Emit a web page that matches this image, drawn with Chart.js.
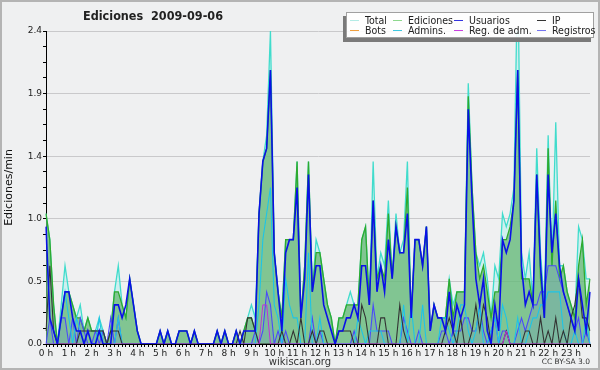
<!DOCTYPE html>
<html lang="es">
<head>
<meta charset="UTF-8">
<title>Ediciones 2009-09-06</title>
<script src="https://cdn.jsdelivr.net/npm/chart.js@4.4.0/dist/chart.umd.min.js"></script>
<style>
  html, body { margin: 0; padding: 0; background: #eff0f1; }
  #wrap { position: relative; width: 600px; height: 370px; overflow: hidden; font-family: "DejaVu Sans", sans-serif; color: #222; }
  #frame { position: absolute; left: 0; top: 0; width: 600px; height: 370px; box-sizing: border-box; border: 2px solid #b4b4b4; pointer-events: none; }
  #title { position: absolute; left: 0; width: 306px; top: 8px; text-align: center; font-family: "DejaVu Sans Condensed", "DejaVu Sans", sans-serif; font-weight: bold; font-size: 12.5px; white-space: pre; }
  #legend { position: absolute; left: 346px; top: 12px; width: 246px; height: 24px; background: rgba(255,255,255,0.9); border: 1px solid #a0a0a0; box-shadow: -3px 4px 0 #7a7a7a; }
  .li { position: absolute; font-family: "DejaVu Sans Condensed", "DejaVu Sans", sans-serif; font-size: 10.5px; line-height: 11px; white-space: nowrap; }
  .li i { display: inline-block; width: 9px; height: 0; border-top: 1.5px solid; vertical-align: middle; margin-right: 6px; position: relative; top: -1px; }
  #site { position: absolute; left: 0; width: 600px; top: 356px; text-align: center; font-size: 10px; color: #333; }
  #lic { position: absolute; right: 10px; top: 357px; font-size: 7.5px; color: #333; }
</style>
</head>
<body>
<div id="wrap">
  <canvas id="c" width="600" height="370"></canvas>
  <div id="title">Ediciones  2009-09-06</div>
  <div id="legend"></div>
  <div id="site">wikiscan.org</div>
  <div id="lic">CC BY-SA 3.0</div>
  <div id="frame"></div>
</div>
<script>
// 10-minute slots over the day, edits per minute
const HOUR_LABELS = ["0 h","1 h","2 h","3 h","4 h","5 h","6 h","7 h","8 h","9 h","10 h","11 h",
  "12 h","13 h","14 h","15 h","16 h","17 h","18 h","19 h","20 h","21 h","22 h","23 h"];
const SLOTS = Array.from({ length: 144 }, (_, i) => i);

const TOTAL = [
  1.0,0.8,0.3,0.0,0.3,0.6, 0.4,0.3,0.2,0.3,0.1,0.2, 0.1,0.1,0.2,0.1,0.0,0.1, 0.4,0.6,0.3,0.2,0.5,0.3,
  0.1,0.0,0.0,0.0,0.0,0.0, 0.1,0.0,0.1,0.0,0.0,0.1, 0.1,0.1,0.0,0.1,0.0,0.0, 0.0,0.0,0.0,0.1,0.0,0.1,
  0.0,0.0,0.1,0.0,0.1,0.2, 0.3,0.2,1.0,1.4,1.6,2.4, 0.7,0.4,0.2,0.8,0.8,0.8, 1.4,0.2,0.6,1.4,0.4,0.8,
  0.7,0.5,0.3,0.2,0.0,0.2, 0.2,0.3,0.4,0.3,0.3,0.8, 0.9,0.3,1.4,0.5,0.7,0.6, 1.1,0.5,1.0,0.7,0.8,1.4,
  0.2,0.8,0.8,0.6,0.9,0.1, 0.3,0.2,0.2,0.2,0.5,0.3, 0.4,0.4,0.4,2.0,1.2,0.7, 0.6,0.7,0.5,0.2,0.6,0.5,
  1.0,0.9,1.0,1.2,2.9,0.7, 0.5,0.7,0.3,1.5,0.7,0.3, 1.6,0.6,1.7,0.6,0.6,0.4, 0.3,0.2,0.9,0.8,0.5,0.5
];
const EDICIONES = [
  1.0,0.8,0.3,0.0,0.2,0.4, 0.4,0.3,0.2,0.2,0.1,0.2, 0.1,0.1,0.1,0.1,0.0,0.1, 0.4,0.4,0.3,0.2,0.5,0.3,
  0.1,0.0,0.0,0.0,0.0,0.0, 0.1,0.0,0.1,0.0,0.0,0.1, 0.1,0.1,0.0,0.1,0.0,0.0, 0.0,0.0,0.0,0.1,0.0,0.1,
  0.0,0.0,0.1,0.0,0.1,0.2, 0.2,0.1,1.0,1.4,1.5,2.1, 0.7,0.4,0.2,0.8,0.8,0.8, 1.4,0.2,0.6,1.4,0.4,0.7,
  0.7,0.5,0.3,0.2,0.0,0.2, 0.2,0.3,0.3,0.3,0.3,0.8, 0.9,0.3,1.1,0.5,0.6,0.5, 1.0,0.5,0.9,0.7,0.7,1.2,
  0.2,0.8,0.8,0.6,0.9,0.1, 0.3,0.2,0.2,0.2,0.5,0.2, 0.4,0.4,0.4,1.9,1.2,0.7, 0.5,0.6,0.4,0.2,0.4,0.4,
  0.8,0.8,0.9,1.1,2.1,0.5, 0.5,0.5,0.3,1.3,0.5,0.2, 1.5,0.6,1.1,0.5,0.6,0.4, 0.3,0.2,0.6,0.8,0.3,0.5
];
const USUARIOS = [
  0.9,0.2,0.1,0.0,0.2,0.4, 0.4,0.2,0.1,0.1,0.0,0.1, 0.0,0.0,0.1,0.0,0.0,0.0, 0.3,0.3,0.2,0.3,0.5,0.3,
  0.1,0.0,0.0,0.0,0.0,0.0, 0.1,0.0,0.1,0.0,0.0,0.1, 0.1,0.1,0.0,0.1,0.0,0.0, 0.0,0.0,0.0,0.1,0.0,0.1,
  0.0,0.0,0.1,0.0,0.1,0.1, 0.1,0.1,1.0,1.4,1.5,2.1, 0.7,0.4,0.1,0.7,0.8,0.8, 1.2,0.2,0.5,1.3,0.4,0.6,
  0.6,0.3,0.2,0.1,0.0,0.1, 0.1,0.2,0.2,0.3,0.2,0.6, 0.6,0.3,1.1,0.4,0.6,0.4, 0.8,0.5,0.9,0.7,0.7,1.0,
  0.2,0.8,0.8,0.6,0.9,0.1, 0.3,0.2,0.2,0.1,0.4,0.1, 0.3,0.2,0.3,1.8,1.1,0.5, 0.3,0.5,0.1,0.0,0.3,0.1,
  0.8,0.7,0.8,1.1,2.1,0.6, 0.3,0.4,0.3,1.3,0.6,0.2, 1.3,0.7,1.0,0.6,0.4,0.3, 0.2,0.1,0.5,0.3,0.1,0.4
];
const IP = [
  0.1,0.6,0.1,0.0,0.0,0.0, 0.0,0.0,0.0,0.1,0.1,0.1, 0.1,0.1,0.1,0.1,0.0,0.1, 0.1,0.1,0.0,0.0,0.0,0.0,
  0.0,0.0,0.0,0.0,0.0,0.0, 0.0,0.0,0.0,0.0,0.0,0.0, 0.0,0.0,0.0,0.0,0.0,0.0, 0.0,0.0,0.0,0.0,0.0,0.0,
  0.0,0.0,0.0,0.1,0.0,0.2, 0.2,0.1,0.0,0.0,0.0,0.0, 0.0,0.0,0.1,0.0,0.0,0.1, 0.0,0.2,0.0,0.0,0.1,0.0,
  0.1,0.1,0.0,0.0,0.0,0.1, 0.1,0.1,0.1,0.0,0.0,0.3, 0.2,0.0,0.0,0.0,0.2,0.2, 0.0,0.0,0.0,0.3,0.1,0.0,
  0.0,0.0,0.0,0.0,0.0,0.0, 0.0,0.0,0.0,0.1,0.2,0.1, 0.0,0.2,0.0,0.0,0.1,0.3, 0.1,0.3,0.2,0.0,0.0,0.0,
  0.0,0.1,0.0,0.0,0.0,0.0, 0.1,0.1,0.0,0.0,0.2,0.0, 0.1,0.0,0.2,0.0,0.1,0.0, 0.2,0.3,0.5,0.2,0.2,0.1
];
const BOTS = new Array(144).fill(0);
const ADMINS = [
  0.0,0.0,0.0,0.0,0.2,0.4, 0.2,0.0,0.2,0.1,0.0,0.0, 0.0,0.0,0.2,0.0,0.0,0.0, 0.0,0.2,0.0,0.0,0.0,0.0,
  0.0,0.0,0.0,0.0,0.0,0.0, 0.0,0.0,0.0,0.0,0.0,0.0, 0.0,0.0,0.0,0.0,0.0,0.0, 0.0,0.0,0.0,0.0,0.0,0.0,
  0.0,0.0,0.0,0.0,0.0,0.0, 0.0,0.0,0.3,0.8,1.0,1.2, 0.3,0.2,0.0,0.5,0.3,0.2, 0.2,0.0,0.0,0.7,0.0,0.0,
  0.2,0.0,0.0,0.0,0.0,0.0, 0.0,0.0,0.0,0.0,0.2,0.1, 0.0,0.1,0.1,0.1,0.1,0.0, 0.0,0.0,0.0,0.0,0.3,0.0,
  0.3,0.0,0.0,0.3,0.0,0.0, 0.0,0.0,0.2,0.2,0.1,0.0, 0.1,0.3,0.3,0.1,0.0,0.1, 0.3,0.0,0.0,0.1,0.2,0.0,
  0.3,0.2,0.0,0.0,0.2,0.0, 0.0,0.1,0.2,0.2,0.3,0.3, 0.4,0.4,0.4,0.4,0.1,0.0, 0.0,0.1,0.0,0.0,0.2,0.0
];
const REG_ADM = [
  0,0,0,0,0,0, 0,0,0,0,0,0, 0,0,0,0,0,0, 0,0,0,0,0,0,
  0,0,0,0,0,0, 0,0,0,0,0,0, 0,0,0,0,0,0, 0,0,0,0,0,0,
  0,0,0,0,0,0, 0,0,0,0.3,0.3,0, 0,0,0,0,0,0, 0,0,0,0,0,0,
  0,0,0,0,0,0, 0,0,0,0,0,0, 0,0,0,0,0,0, 0,0,0,0,0,0,
  0,0,0,0,0,0, 0,0,0,0,0,0, 0,0,0,0,0,0, 0,0,0,0,0,0,
  0,0.1,0,0,0,0, 0,0,0,0,0,0, 0,0,0,0,0,0, 0,0,0,0,0,0
];
const REGISTROS = [
  0.0,0.2,0.0,0.0,0.2,0.2, 0.0,0.2,0.0,0.2,0.1,0.0, 0.0,0.1,0.0,0.1,0.0,0.2, 0.0,0.2,0.0,0.0,0.0,0.0,
  0.0,0.0,0.0,0.0,0.0,0.0, 0.0,0.0,0.0,0.0,0.0,0.0, 0.0,0.0,0.0,0.0,0.0,0.0, 0.0,0.0,0.0,0.0,0.0,0.0,
  0.0,0.0,0.0,0.0,0.0,0.0, 0.0,0.1,0.0,0.1,0.4,0.3, 0.0,0.1,0.0,0.1,0.0,0.0, 0.0,0.0,0.0,0.0,0.2,0.0,
  0.1,0.0,0.0,0.0,0.0,0.0, 0.0,0.0,0.0,0.1,0.0,0.0, 0.0,0.0,0.3,0.1,0.1,0.1, 0.1,0.0,0.0,0.0,0.2,0.1,
  0.0,0.0,0.1,0.0,0.0,0.0, 0.0,0.0,0.1,0.1,0.0,0.1, 0.1,0.1,0.2,0.2,0.1,0.1, 0.3,0.1,0.0,0.1,0.2,0.0,
  0.1,0.1,0.0,0.0,0.1,0.2, 0.1,0.2,0.3,0.3,0.4,0.4, 0.6,0.6,0.6,0.5,0.4,0.3, 0.2,0.1,0.2,0.0,0.1,0.0
];

const Y_MAX = 2.4;
const Y_STEP = 0.12; // minor tick; labelled every 4th

// legend layout: [label, colour, left, top]
const LEGEND = [
  ["Total", "#b4ece6", 3, 2], ["Ediciones", "#8ed88e", 46, 2], ["Usuarios", "#3434e0", 107, 2], ["IP", "#333333", 190, 2],
  ["Bots", "#f0a040", 3, 12], ["Admins.", "#40c8e0", 46, 12], ["Reg. de adm.", "#c840e0", 107, 12], ["Registros", "#7474f0", 190, 12],
];
const lg = document.getElementById("legend");
for (const [txt, col, l, t] of LEGEND) {
  const d = document.createElement("div");
  d.className = "li";
  d.style.left = l + "px";
  d.style.top = t + "px";
  d.innerHTML = `<i style="border-color:${col}"></i>${txt}`;
  lg.appendChild(d);
}

const line = (label, data, color, width, order, extra = {}) => ({
  label, data, borderColor: color, borderWidth: width, order,
  pointRadius: 0, tension: 0, fill: false, ...extra,
});

new Chart(document.getElementById("c"), {
  type: "line",
  data: {
    labels: SLOTS,
    datasets: [
      line("Total", TOTAL, "#40dccc", 1.3, 9, { fill: "origin", backgroundColor: "rgba(180,238,236,0.55)" }),
      line("Ediciones", EDICIONES, "#2eaa2e", 1.3, 8, { fill: "origin", backgroundColor: "rgba(58,160,62,0.52)" }),
      line("Registros", REGISTROS, "#4a4af8", 1.1, 7, { fill: "origin", backgroundColor: "rgba(80,80,250,0.12)" }),
      line("Admins.", ADMINS, "#1ec4e6", 1.1, 6),
      line("IP", IP, "#333333", 1.1, 5),
      line("Bots", BOTS, "#f0a040", 1, 10),
      line("Reg. de adm.", REG_ADM, "#c030d8", 1, 4),
      line("Usuarios", USUARIOS, "#0a10e8", 1.6, 3),
    ],
  },
  options: {
    responsive: false,
    animation: false,
    events: [],
    layout: { padding: { left: 0, top: 31, right: 10, bottom: 10 } },
    plugins: { legend: { display: false }, title: { display: false }, tooltip: { enabled: false } },
    scales: {
      x: {
        z: 1,
        afterFit: (s) => { s.height = 16; },
        grid: { display: true, drawOnChartArea: false, color: "#000", tickLength: 3 },
        border: { display: true, color: "#000", width: 1 },
        ticks: {
          autoSkip: false, maxRotation: 0, minRotation: 0, padding: 1,
          color: "#222", font: { family: "DejaVu Sans", size: 9 },
          callback: (v, i) => (i % 6 === 0 ? HOUR_LABELS[i / 6] : ""),
        },
      },
      y: {
        min: 0, max: Y_MAX,
        afterFit: (s) => { s.width = 46; },
        grid: {
          color: (ctx) => (ctx.index % 4 === 0 ? "#c9c9cb" : "rgba(0,0,0,0)"),
          tickColor: "#000", tickLength: 3, lineWidth: 1,
        },
        border: { display: true, color: "#000", width: 1 },
        title: { display: true, text: "Ediciones/min", color: "#111", font: { family: "DejaVu Sans", size: 11 }, padding: { top: 3, bottom: 0 } },
        ticks: {
          stepSize: Y_STEP, padding: 1, color: "#222", font: { family: "DejaVu Sans", size: 9 },
          callback: (v, i) => (i % 4 === 0 ? v.toFixed(1) : ""),
        },
      },
    },
  },
});
</script>
</body>
</html>
